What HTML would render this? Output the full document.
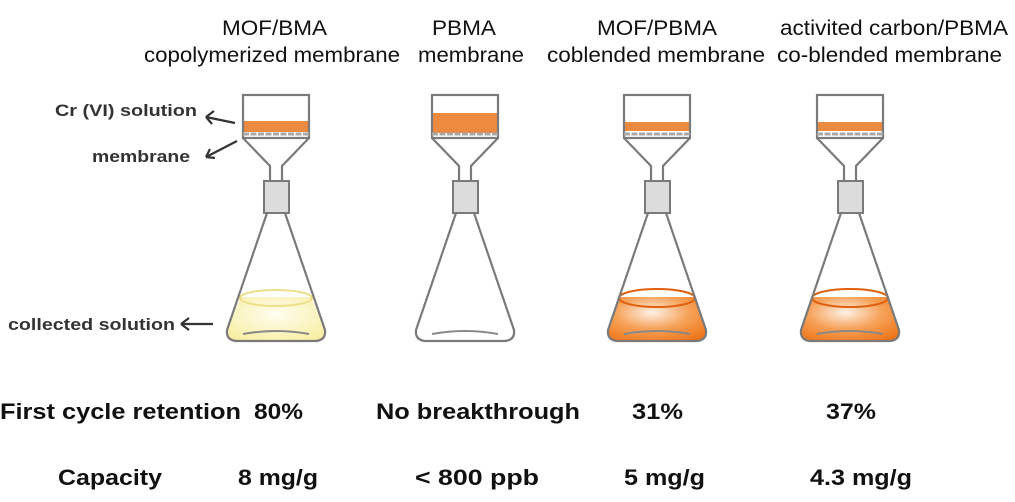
<!DOCTYPE html>
<html><head><style>html,body{margin:0;padding:0;background:#fff}svg{display:block}</style></head><body>
<svg width="1015" height="502" viewBox="0 0 1015 502" xmlns="http://www.w3.org/2000/svg">
<defs>
<radialGradient id="yl" cx="0.5" cy="0.4" r="0.7"><stop offset="0" stop-color="#fffdf0"/><stop offset="1" stop-color="#f7eea0"/></radialGradient>
<radialGradient id="or" cx="0.45" cy="0.35" r="0.75"><stop offset="0" stop-color="#fdf1e6"/><stop offset="0.5" stop-color="#f6a25a"/><stop offset="1" stop-color="#ee7417"/></radialGradient>
<g id="flask" fill="none" stroke="#7a7a7a" stroke-width="2.2">
<rect x="-33" y="95" width="66" height="43" fill="none"/>
<line x1="-33" y1="134" x2="33" y2="134" stroke="#a8a8a8" stroke-width="3" stroke-dasharray="6 1.5"/>
<path d="M-33 138 L-6 166 L-6 181 M33 138 L6 166 L6 181"/>
<rect x="-12" y="181" width="25" height="32" fill="#dcdcdc" stroke="#7a7a7a" stroke-width="2"/>
<path d="M-9 213 L-49 330 Q-50 340 -40 341 L40 341 Q50 340 49 330 L9 213"/>
<path d="M-33 334 Q0 328 33 334" stroke="#888" stroke-width="2"/>
</g>
</defs>
<g font-family="Liberation Sans, Arial, sans-serif" font-size="21" fill="#111">
<text x="222" y="35" textLength="105" lengthAdjust="spacingAndGlyphs">MOF/BMA</text>
<text x="144" y="62" textLength="256" lengthAdjust="spacingAndGlyphs">copolymerized membrane</text>
<text x="432" y="35" textLength="64" lengthAdjust="spacingAndGlyphs">PBMA</text>
<text x="418" y="62" textLength="106" lengthAdjust="spacingAndGlyphs">membrane</text>
<text x="597" y="35" textLength="120" lengthAdjust="spacingAndGlyphs">MOF/PBMA</text>
<text x="547" y="62" textLength="218" lengthAdjust="spacingAndGlyphs">coblended membrane</text>
<text x="780" y="35" textLength="228" lengthAdjust="spacingAndGlyphs">activited carbon/PBMA</text>
<text x="777" y="62" textLength="225" lengthAdjust="spacingAndGlyphs">co-blended membrane</text>
</g>
<g font-family="Liberation Sans, Arial, sans-serif" font-weight="bold" font-size="17" fill="#333">
<text x="55" y="116" textLength="142" lengthAdjust="spacingAndGlyphs">Cr (VI) solution</text>
<text x="92" y="162" textLength="98" lengthAdjust="spacingAndGlyphs">membrane</text>
<text x="8" y="330" textLength="167" lengthAdjust="spacingAndGlyphs">collected solution</text>
</g>
<g stroke="#333" stroke-width="2.2" fill="none">
<path d="M235 123 L206 117 M206 117 L214 111 M206 117 L212 124"/>
<path d="M237 141 L206 157 M206 157 L210 149 M206 157 L215 158"/>
<path d="M213 324 L181 324 M181 324 L189 318 M181 324 L189 330"/>
</g>
<g transform="translate(276,0)">
<rect x="-33" y="121" width="66" height="11" fill="#ec8a40"/>
<path d="M-35 297 L-49 330 Q-50 340 -40 341 L40 341 Q50 340 49 330 L35 297 Z" fill="url(#yl)"/>
<ellipse cx="0" cy="298" rx="36" ry="8" fill="none" stroke="#eee08a" stroke-width="2"/>
<use href="#flask"/></g>
<g transform="translate(465,0)">
<rect x="-33" y="113" width="66" height="20" fill="#ec8a40"/>
<use href="#flask"/></g>
<g transform="translate(657,0)">
<rect x="-33" y="122" width="66" height="9" fill="#ec8a40"/>
<path d="M-38 297 L-49 330 Q-50 340 -40 341 L40 341 Q50 340 49 330 L38 297 Z" fill="url(#or)"/>
<ellipse cx="0" cy="298" rx="38" ry="9" fill="none" stroke="#e0600e" stroke-width="2"/>
<use href="#flask"/></g>
<g transform="translate(850,0)">
<rect x="-33" y="122" width="66" height="9" fill="#ec8a40"/>
<path d="M-38 297 L-49 330 Q-50 340 -40 341 L40 341 Q50 340 49 330 L38 297 Z" fill="url(#or)"/>
<ellipse cx="0" cy="298" rx="38" ry="9" fill="none" stroke="#e0600e" stroke-width="2"/>
<use href="#flask"/></g>
<g font-family="Liberation Sans, Arial, sans-serif" font-weight="bold" font-size="22" fill="#111">
<text x="0" y="419" textLength="241" lengthAdjust="spacingAndGlyphs">First cycle retention</text>
<text x="254" y="419" textLength="49" lengthAdjust="spacingAndGlyphs">80%</text>
<text x="376" y="419" textLength="204" lengthAdjust="spacingAndGlyphs">No breakthrough</text>
<text x="632" y="419" textLength="51" lengthAdjust="spacingAndGlyphs">31%</text>
<text x="826" y="419" textLength="50" lengthAdjust="spacingAndGlyphs">37%</text>
<text x="58" y="485" textLength="104" lengthAdjust="spacingAndGlyphs">Capacity</text>
<text x="238" y="485" textLength="80" lengthAdjust="spacingAndGlyphs">8 mg/g</text>
<text x="415" y="485" textLength="124" lengthAdjust="spacingAndGlyphs">&lt; 800 ppb</text>
<text x="624" y="485" textLength="81" lengthAdjust="spacingAndGlyphs">5 mg/g</text>
<text x="810" y="485" textLength="102" lengthAdjust="spacingAndGlyphs">4.3 mg/g</text>
</g>
</svg>
</body></html>
